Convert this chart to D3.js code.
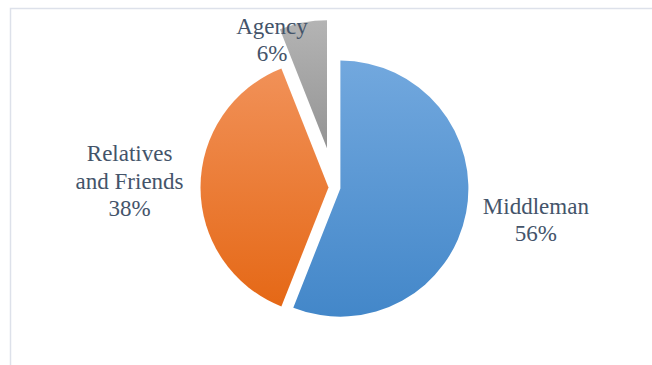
<!DOCTYPE html>
<html>
<head>
<meta charset="utf-8">
<script src="https://cdn.jsdelivr.net/npm/d3@7"></script>
<style>
  html, body { margin: 0; padding: 0; background: #ffffff; }
  svg { display: block; font-family: "Liberation Serif", "Times New Roman", serif; }
  svg text { font-family: "Liberation Serif", "Times New Roman", serif !important; }
</style>
</head>
<body>
<svg id="chart" width="652" height="365" font-family="Liberation Serif, serif"></svg>
<script>
// Sources of recruitment (share of respondents, %)
const categories = ["Middleman", "Relatives and Friends", "Agency"];
const values = [56, 38, 6];
const percentLabels = ["56%", "38%", "6%"];

// Slice styling: gradient stops (top, bottom) and explode distance per slice
const gradientStops = [
  ["#72a8de", "#4387c9"],
  ["#f19158", "#e56816"],
  ["#b4b4b4", "#949494"]
];
const explode = [6, 6, 40];
// Label anchor placement (angle in degrees clockwise from top, distance from centre)
const labelPolar = [[99.2, 204], [271.8, 205], [337, 160]];

const W = 652, H = 365;
const cx = 334.5, cy = 187.5, R = 128;
const fontSize = 23, lineH = 27.4, capH = 15;

const svg = d3.select("#chart");

// Chart area frame (top and left edges)
svg.append("path")
  .attr("d", `M10.5,${H} L10.5,8.5 L${W},8.5`)
  .attr("fill", "none")
  .attr("stroke", "#dde1ea")
  .attr("stroke-width", 1.5);

const defs = svg.append("defs");
gradientStops.forEach((stops, i) => {
  const g = defs.append("linearGradient")
    .attr("id", "grad" + i)
    .attr("x1", 0).attr("y1", 0).attr("x2", 0).attr("y2", 1);
  g.append("stop").attr("offset", "0%").attr("stop-color", stops[0]);
  g.append("stop").attr("offset", "100%").attr("stop-color", stops[1]);
});

const pie = d3.pie().sort(null).value(d => d).startAngle(0).endAngle(2 * Math.PI);
const arcs = pie(values);
const arc = d3.arc().innerRadius(0).outerRadius(R);

svg.selectAll("path.slice")
  .data(arcs)
  .join("path")
  .attr("class", "slice")
  .attr("d", arc)
  .attr("fill", (d, i) => `url(#grad${i})`)
  .attr("transform", (d, i) => {
    const mid = (d.startAngle + d.endAngle) / 2;
    return `translate(${cx + explode[i] * Math.sin(mid)},${cy - explode[i] * Math.cos(mid)})`;
  });

// Label lines: category name wrapped at a maximum line length, followed by the percentage
const maxChars = 12;
function wrap(text) {
  const lines = [];
  let cur = "";
  text.split(" ").forEach(w => {
    const trial = cur ? cur + " " + w : w;
    if (cur && trial.length > maxChars) { lines.push(cur); cur = w; }
    else cur = trial;
  });
  if (cur) lines.push(cur);
  return lines;
}

const labelRows = [];
arcs.forEach((d, i) => {
  const lines = wrap(categories[i]).concat([percentLabels[i]]);
  const a = labelPolar[i][0] * Math.PI / 180, r = labelPolar[i][1];
  const lx = cx + r * Math.sin(a), ly = cy - r * Math.cos(a);
  const n = lines.length;
  lines.forEach((ln, k) => {
    labelRows.push({ text: ln, x: lx, y: ly + (k - (n - 1) / 2) * lineH + capH / 2 });
  });
});

svg.selectAll("text.label")
  .data(labelRows)
  .join("text")
  .attr("class", "label")
  .attr("x", d => d.x)
  .attr("y", d => d.y)
  .attr("text-anchor", "middle")
  .attr("fill", "#44546a")
  .style("font-family", '"Liberation Serif", "Times New Roman", serif')
  .style("font-size", fontSize + "px")
  .text(d => d.text);
</script>
</body>
</html>
